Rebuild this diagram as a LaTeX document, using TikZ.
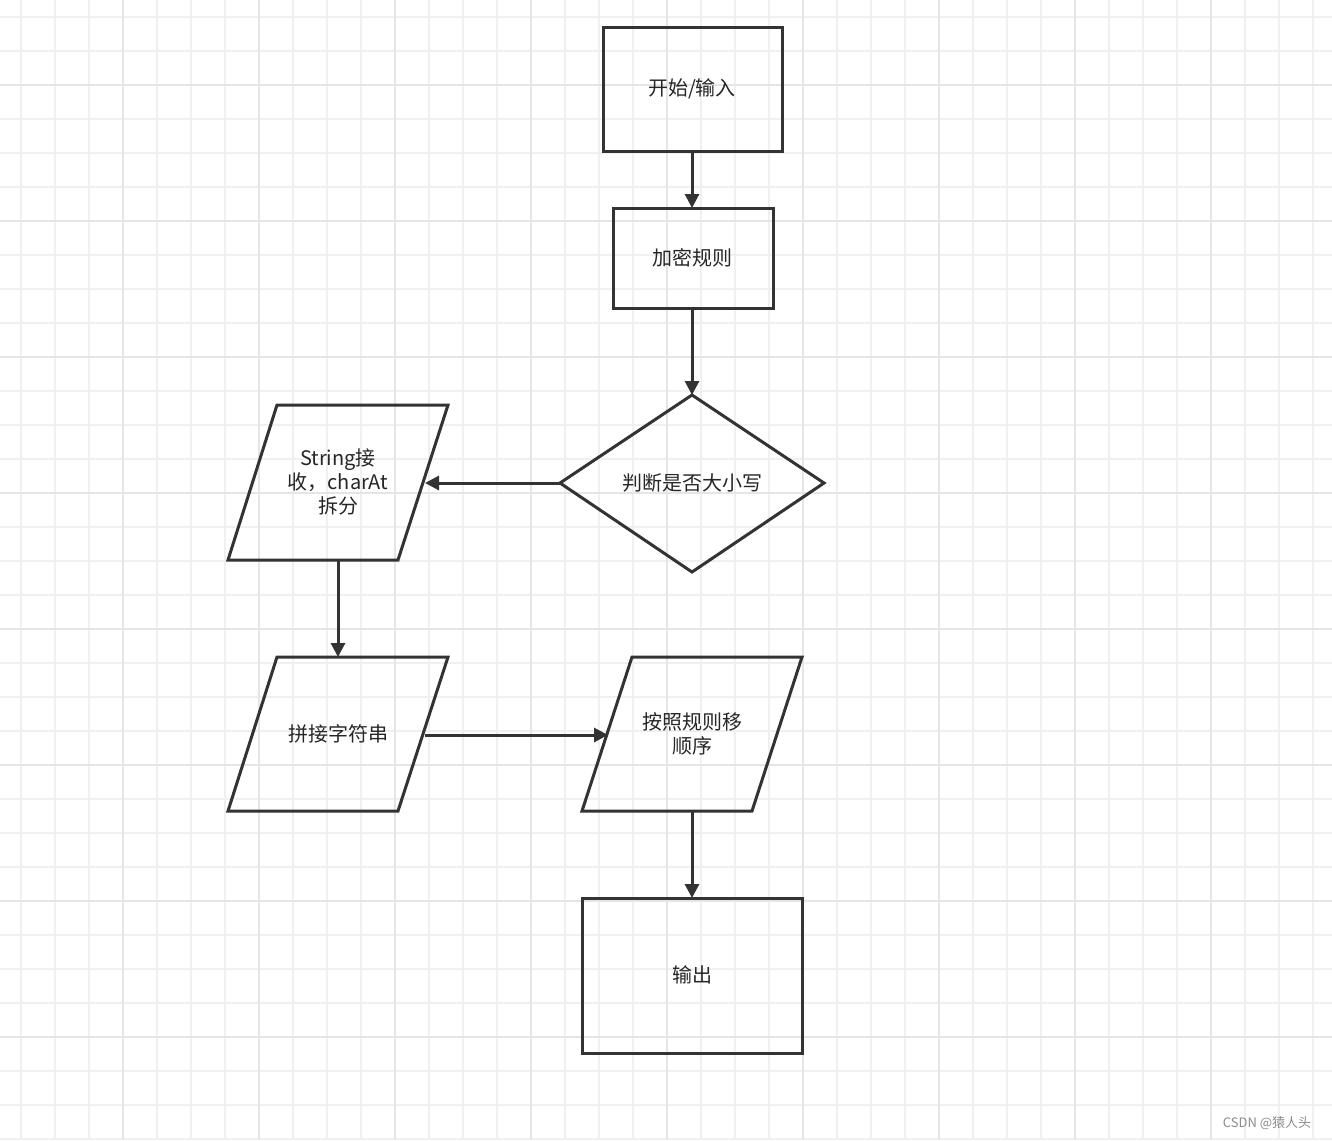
\documentclass[tikz,border=0pt]{standalone}
\usepackage{fontspec}
\setmainfont{Noto Sans CJK SC}
\usetikzlibrary{arrows.meta}
\begin{document}
\begin{tikzpicture}[x=1pt,y=-1pt,
  shp/.style={draw=black!80,line width=3pt,line join=miter},
  conn/.style={draw=black!80,line width=3pt,-{Triangle[length=14pt,width=14pt]}},
  lbl/.style={font=\fontsize{20}{24}\selectfont,text=black!85,align=center}]
\fill[white] (0,0) rectangle (1332,1140);
\useasboundingbox (0,0) rectangle (1332,1140);
\foreach \i in {0,...,39} {\draw[black!6,line width=2pt] (21+34*\i,0) -- (21+34*\i,1140);}
\foreach \i in {0,...,33} {\draw[black!6,line width=2pt] (0,17+34*\i) -- (1332,17+34*\i);}
\foreach \i in {0,...,9} {\draw[black!10,line width=2pt] (123+136*\i,0) -- (123+136*\i,1140);}
\foreach \i in {0,...,8} {\draw[black!10,line width=2pt] (0,85+136*\i) -- (1332,85+136*\i);}
% boxes
\draw[shp] (603,28) rectangle (782,151);
\node[lbl] (start) at (692,89) {开始/输入};
\draw[shp] (613,208) rectangle (773,308);
\node[lbl] (rule) at (692,258) {加密规则};
\draw[shp] (560,483) -- (692,395) -- (824,483) -- (692,572) -- cycle;
\node[lbl] (dec) at (692,483) {判断是否大小写};
\draw[shp] (277,405) -- (448,405) -- (398,560) -- (228,560) -- cycle;
\node[lbl] (split) at (338,482) {String接\\收，charAt\\拆分};
\draw[shp] (277,657) -- (448,657) -- (398,811) -- (228,811) -- cycle;
\node[lbl] (join) at (338,734) {拼接字符串};
\draw[shp] (632,657) -- (802,657) -- (752,811) -- (582,811) -- cycle;
\node[lbl] (move) at (692,734) {按照规则移\\顺序};
\draw[shp] (582,898) rectangle (802,1053);
\node[lbl] (out) at (692,975) {输出};
\coordinate (a1) at (692,151); \coordinate (a2) at (692,208);
\coordinate (b1) at (692,308); \coordinate (b2) at (692,395);
\coordinate (c1) at (560,483); \coordinate (c2) at (425,483);
\coordinate (d1) at (338,560); \coordinate (d2) at (338,657);
\coordinate (e1) at (425,735); \coordinate (e2) at (608,735);
\coordinate (f1) at (692,811); \coordinate (f2) at (692,898);
\draw[conn] (a1) -- (a2);
\draw[conn] (b1) -- (b2);
\draw[conn] (c1) -- (c2);
\draw[conn] (d1) -- (d2);
\draw[conn] (e1) -- (e2);
\draw[conn] (f1) -- (f2);
\node[text=black!45,font=\fontsize{13}{15}\selectfont] (wm) at (1267,1123) {CSDN @猿人头};
\end{tikzpicture}
\end{document}
